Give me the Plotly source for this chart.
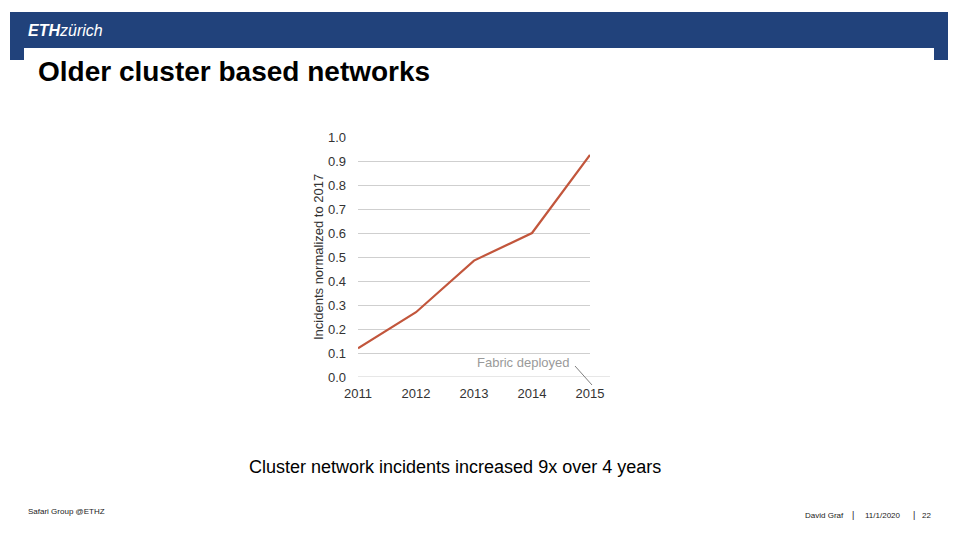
import plotly.graph_objects as go

years = [2011, 2012, 2013, 2014, 2015]
incidents = [0.12, 0.27, 0.485, 0.60, 0.925]
y_ticks = [0.0, 0.1, 0.2, 0.3, 0.4, 0.5, 0.6, 0.7, 0.8, 0.9, 1.0]
y_tick_labels = ["0.0", "0.1", "0.2", "0.3", "0.4", "0.5", "0.6", "0.7", "0.8", "0.9", "1.0"]
x_tick_labels = ["2011", "2012", "2013", "2014", "2015"]

OFF = 8  # page body margin offset
W, H = 960, 540
L, R, T, B = 358 - OFF, 590 - OFF, 137 - OFF, 377 - OFF  # plot area in figure pixels


def px(x):
    return (x - OFF - L) / (R - L)


def py(y):
    return (B - (y - OFF)) / (B - T)


FONT = "Liberation Sans, Arial, sans-serif"
BLUE = "#21427B"

fig = go.Figure()
fig.add_trace(go.Scatter(
    x=years, y=incidents, mode="lines",
    line=dict(color="#C2563C", width=2.2),
    hoverinfo="skip", showlegend=False, cliponaxis=False,
))

shapes = [
    dict(type="rect", xref="paper", yref="paper", x0=px(10), x1=px(948), y0=py(60), y1=py(12),
         fillcolor=BLUE, line_width=0, layer="below"),
    dict(type="rect", xref="paper", yref="paper", x0=px(24), x1=px(934), y0=py(61), y1=py(48),
         fillcolor="white", line_width=0, layer="below"),
    dict(type="line", xref="paper", yref="y", x0=0, x1=px(610), y0=0, y1=0,
         line=dict(color="#cfcfcf", width=1), layer="below"),
    dict(type="line", xref="paper", yref="paper", x0=px(575), y0=py(366), x1=px(592), y1=py(385),
         line=dict(color="#808080", width=1)),
]


def note(text, x, y, size, color="black", xanchor="left", angle=0):
    return dict(text=text, xref="paper", yref="paper", x=px(x), y=py(y),
                xanchor=xanchor, yanchor="middle", showarrow=False, textangle=angle,
                font=dict(family=FONT, size=size, color=color))


annotations = [
    note("<b><i>ETH</i></b><i>zürich</i>", 26, 30, 16, "white"),
    note("<b>Older cluster based networks</b>", 36, 71, 28),
    note("Incidents normalized to 2017", 318, 257, 13, "#333333", "center", -90),
    note("Fabric deployed", 572, 362, 13, "#9a9a9a", "right"),
    note("Cluster network incidents increased 9x over 4 years", 455, 467, 18, "black", "center"),
    note("Safari Group @ETHZ", 26, 511, 8, "#222222"),
    note("David Graf", 846, 515, 8, "#222222", "right"),
    note("|", 853, 515, 9, "#222222", "center"),
    note("11/1/2020", 883, 515, 8, "#222222", "center"),
    note("|", 914, 515, 9, "#222222", "center"),
    note("22", 933, 515, 8, "#222222", "right"),
]

fig.update_layout(
    width=W, height=H, autosize=False,
    margin=dict(l=L, r=W - R, t=T, b=H - B, pad=0),
    paper_bgcolor="white", plot_bgcolor="white",
    shapes=shapes, annotations=annotations,
    showlegend=False,
    xaxis=dict(range=[2011, 2015], tickvals=years, ticktext=x_tick_labels,
               showgrid=False, zeroline=False, showline=False,
               ticks="", ticklabelstandoff=7,
               tickfont=dict(family=FONT, size=13, color="#333333")),
    yaxis=dict(range=[0, 1.0], tickvals=y_ticks, ticktext=y_tick_labels,
               showgrid=True, gridcolor="#cfcfcf", gridwidth=1,
               zeroline=False, showline=False, ticks="", ticklabelstandoff=11,
               tickfont=dict(family=FONT, size=13, color="#333333")),
)

fig.write_html("out.html")
